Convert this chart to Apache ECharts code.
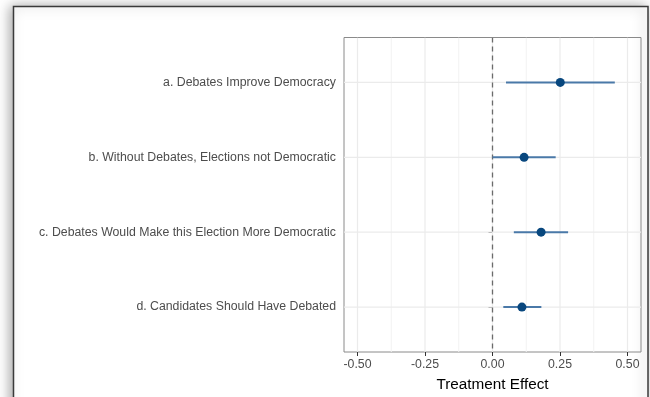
<!DOCTYPE html>
<html><head><meta charset="utf-8">
<script src="https://cdn.jsdelivr.net/npm/echarts@6/dist/echarts.min.js"></script>
<style>html,body{margin:0;padding:0;background:#fff}#c{width:650px;height:397px}</style>
</head><body><div id="c"></div>
<script>
const categories = [
  'a. Debates Improve Democracy',
  'b. Without Debates, Elections not Democratic',
  'c. Debates Would Make this Election More Democratic',
  'd. Candidates Should Have Debated'
];
const rowPositions = [1, 2, 3, 4];
const estimates = [0.251, 0.117, 0.180, 0.109];
const lowerCI = [0.050, 0.000, 0.079, 0.040];
const upperCI = [0.453, 0.234, 0.280, 0.181];
const xMajorTicks = [-0.5, -0.25, 0, 0.25, 0.5];
const xMinorTicks = [-0.375, -0.125, 0.125, 0.375];
const xLimits = [-0.55, 0.55];
const yLimits = [0.4, 4.6];
const refLine = [0];
const xTitle = 'Treatment Effect';

const FONT = 'Liberation Sans, Arial, Helvetica, sans-serif';
const chart = echarts.init(document.getElementById('c'), null, {renderer: 'canvas'});

function vLines(color, width, dash) {
  return function (params, api) {
    const x = api.value(0);
    const p1 = api.coord([x, yLimits[0]]);
    const p2 = api.coord([x, yLimits[1]]);
    return {type: 'line', shape: {x1: p1[0], y1: p1[1], x2: p2[0], y2: p2[1]},
      style: {stroke: color, lineWidth: width, lineDash: dash || null}};
  };
}
function hLines(color, width) {
  return function (params, api) {
    const y = api.value(0);
    const p1 = api.coord([xLimits[0], y]);
    const p2 = api.coord([xLimits[1], y]);
    return {type: 'line', shape: {x1: p1[0], y1: p1[1], x2: p2[0], y2: p2[1]},
      style: {stroke: color, lineWidth: width}};
  };
}

const option = {
  animation: false,
  backgroundColor: '#fff',
  graphic: [{
    type: 'rect', z: -100, silent: true,
    shape: {x: 13.5, y: 6.5, width: 634.5, height: 430},
    style: {fill: '#fff', stroke: '#3a3a3a', lineWidth: 1.5,
      shadowBlur: 12, shadowColor: 'rgba(0,0,0,0.35)', shadowOffsetX: -3, shadowOffsetY: 0}
  }],
  grid: {left: 344, right: 9, top: 37.5, bottom: 44, show: true,
    borderColor: '#8a8a8a', borderWidth: 1, backgroundColor: 'transparent', containLabel: false},
  xAxis: {
    type: 'value', min: xLimits[0], max: xLimits[1],
    axisLine: {show: false},
    axisTick: {show: true, customValues: xMajorTicks, length: 4, lineStyle: {color: '#333', width: 1}},
    axisLabel: {customValues: xMajorTicks, formatter: v => v.toFixed(2), color: '#4d4d4d',
      fontSize: 12.3, fontFamily: FONT, margin: 7},
    splitLine: {show: false},
    name: xTitle, nameLocation: 'middle', nameGap: 25,
    nameTextStyle: {color: '#000', fontSize: 15.3, fontFamily: FONT}
  },
  yAxis: {
    type: 'value', inverse: true, min: yLimits[0], max: yLimits[1],
    axisLine: {show: false},
    axisTick: {show: true, customValues: rowPositions, length: 4, lineStyle: {color: '#333', width: 1}},
    axisLabel: {customValues: rowPositions, formatter: v => categories[Math.round(v) - 1] || '',
      color: '#4d4d4d', fontSize: 12.3, fontFamily: FONT, margin: 8},
    splitLine: {show: false}
  },
  series: [
    {type: 'custom', z: 1, silent: true, clip: true, data: xMinorTicks.map(v => [v]),
      encode: {x: 0}, renderItem: vLines('#f2f2f2', 1)},
    {type: 'custom', z: 1, silent: true, clip: true, data: xMajorTicks.map(v => [v]),
      encode: {x: 0}, renderItem: vLines('#ebebeb', 1.2)},
    {type: 'custom', z: 1, silent: true, clip: true, data: rowPositions.map(v => [v]),
      encode: {y: 0}, renderItem: hLines('#ebebeb', 1.2)},
    {type: 'custom', z: 3, silent: true, data: refLine.map(v => [v]),
      encode: {x: 0}, renderItem: vLines('#6b6b6b', 1.3, [5, 4])},
    {type: 'custom', z: 4, silent: true,
      data: rowPositions.map((p, i) => [lowerCI[i], upperCI[i], p]),
      encode: {x: [0, 1], y: 2},
      renderItem: function (params, api) {
        const a = api.coord([api.value(0), api.value(2)]);
        const b = api.coord([api.value(1), api.value(2)]);
        return {type: 'line', shape: {x1: a[0], y1: a[1], x2: b[0], y2: b[1]},
          style: {stroke: '#4a79a8', lineWidth: 2}};
      }},
    {type: 'scatter', z: 5, silent: true, symbol: 'circle', symbolSize: 9,
      itemStyle: {color: '#08477e', opacity: 1},
      data: rowPositions.map((p, i) => [estimates[i], p])}
  ]
};
chart.setOption(option);
</script></body></html>
